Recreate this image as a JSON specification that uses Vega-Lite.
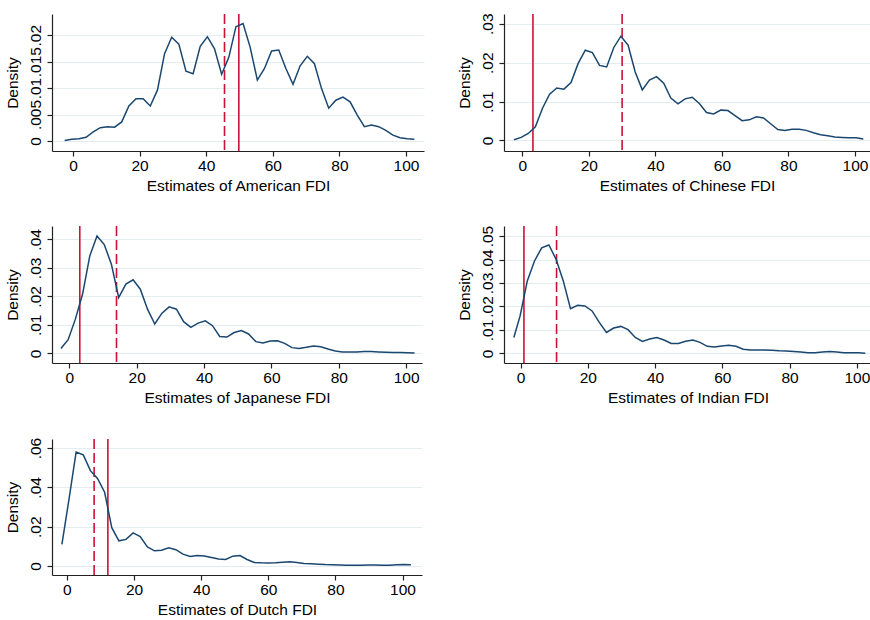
{
  "$schema": "https://vega.github.io/schema/vega-lite/v6.json",
  "padding": {"left": 5, "top": 12, "right": 0, "bottom": 0},
  "background": "white",
  "columns": 2,
  "spacing": {"column": 32, "row": 31},
  "config": {
    "view": {"stroke": null},
    "font": "Liberation Sans",
    "axis": {
      "labelFont": "Liberation Sans", "titleFont": "Liberation Sans",
      "labelFontSize": 15.5, "titleFontSize": 15.5, "titleFontWeight": "normal",
      "labelColor": "#000", "titleColor": "#000",
      "domainColor": "#222", "tickColor": "#222", "domainWidth": 1.2, "tickWidth": 1.2,
      "tickSize": 5
    },
    "axisX": {"grid": false, "labelPadding": 2, "titlePadding": 5, "labelFlush": false},
    "axisY": {"grid": true, "gridColor": "#e3edf0", "gridWidth": 1.2, "labelAngle": -90, "labelAlign": "center", "labelBaseline": "bottom", "labelPadding": 4, "titlePadding": 8}
  },
  "datasets": {
    "markers": [
      {"c": "American", "x": 45.5, "k": "dashed"}, {"c": "American", "x": 49.8, "k": "solid"},
      {"c": "Chinese", "x": 3.2, "k": "solid"}, {"c": "Chinese", "x": 30.0, "k": "dashed"},
      {"c": "Japanese", "x": 3.1, "k": "solid"}, {"c": "Japanese", "x": 14.0, "k": "dashed"},
      {"c": "Indian", "x": 1.0, "k": "solid"}, {"c": "Indian", "x": 10.7, "k": "dashed"},
      {"c": "Dutch", "x": 8.1, "k": "dashed"}, {"c": "Dutch", "x": 12.2, "k": "solid"}
    ],
    "american": [
      {"x": -2.5, "y": 0.0001}, {"x": -0.36, "y": 0.0003}, {"x": 1.79, "y": 0.0004}, {"x": 3.93, "y": 0.0007}, {"x": 6.07, "y": 0.0017},
      {"x": 8.21, "y": 0.0025}, {"x": 10.36, "y": 0.0027}, {"x": 12.5, "y": 0.0026}, {"x": 14.64, "y": 0.0036}, {"x": 16.79, "y": 0.0066},
      {"x": 18.93, "y": 0.008}, {"x": 21.07, "y": 0.008}, {"x": 23.21, "y": 0.0066}, {"x": 25.36, "y": 0.0096}, {"x": 27.5, "y": 0.0165},
      {"x": 29.64, "y": 0.0196}, {"x": 31.79, "y": 0.0183}, {"x": 33.93, "y": 0.0132}, {"x": 36.07, "y": 0.0127}, {"x": 38.21, "y": 0.0179},
      {"x": 40.36, "y": 0.0197}, {"x": 42.5, "y": 0.0174}, {"x": 44.64, "y": 0.0126}, {"x": 46.79, "y": 0.0158}, {"x": 48.93, "y": 0.0216},
      {"x": 51.07, "y": 0.0222}, {"x": 53.21, "y": 0.0177}, {"x": 55.36, "y": 0.0115}, {"x": 57.5, "y": 0.0137}, {"x": 59.64, "y": 0.017},
      {"x": 61.79, "y": 0.0172}, {"x": 63.93, "y": 0.0137}, {"x": 66.07, "y": 0.0107}, {"x": 68.21, "y": 0.0142}, {"x": 70.36, "y": 0.016},
      {"x": 72.5, "y": 0.0146}, {"x": 74.64, "y": 0.0099}, {"x": 76.79, "y": 0.0062}, {"x": 78.93, "y": 0.0077}, {"x": 81.07, "y": 0.0083},
      {"x": 83.21, "y": 0.0074}, {"x": 85.36, "y": 0.0049}, {"x": 87.5, "y": 0.0027}, {"x": 89.64, "y": 0.003}, {"x": 91.79, "y": 0.0027},
      {"x": 93.93, "y": 0.002}, {"x": 96.07, "y": 0.0011}, {"x": 98.21, "y": 0.0006}, {"x": 100.36, "y": 0.0004}, {"x": 102.5, "y": 0.0003}
    ],
    "chinese": [
      {"x": -2.5, "y": 0.0002}, {"x": -0.36, "y": 0.0008}, {"x": 1.79, "y": 0.0018}, {"x": 3.93, "y": 0.0035}, {"x": 6.07, "y": 0.0083},
      {"x": 8.21, "y": 0.0119}, {"x": 10.36, "y": 0.0135}, {"x": 12.5, "y": 0.0132}, {"x": 14.64, "y": 0.0149}, {"x": 16.79, "y": 0.0198},
      {"x": 18.93, "y": 0.0232}, {"x": 21.07, "y": 0.0226}, {"x": 23.21, "y": 0.0193}, {"x": 25.36, "y": 0.0189}, {"x": 27.5, "y": 0.0239},
      {"x": 29.64, "y": 0.0268}, {"x": 31.79, "y": 0.0245}, {"x": 33.93, "y": 0.0176}, {"x": 36.07, "y": 0.013}, {"x": 38.21, "y": 0.0155},
      {"x": 40.36, "y": 0.0164}, {"x": 42.5, "y": 0.0147}, {"x": 44.64, "y": 0.0109}, {"x": 46.79, "y": 0.0094}, {"x": 48.93, "y": 0.0107},
      {"x": 51.07, "y": 0.0111}, {"x": 53.21, "y": 0.0095}, {"x": 55.36, "y": 0.0072}, {"x": 57.5, "y": 0.0068}, {"x": 59.64, "y": 0.0078},
      {"x": 61.79, "y": 0.0077}, {"x": 63.93, "y": 0.0064}, {"x": 66.07, "y": 0.0051}, {"x": 68.21, "y": 0.0053}, {"x": 70.36, "y": 0.0061},
      {"x": 72.5, "y": 0.0058}, {"x": 74.64, "y": 0.0043}, {"x": 76.79, "y": 0.0028}, {"x": 78.93, "y": 0.0026}, {"x": 81.07, "y": 0.0029},
      {"x": 83.21, "y": 0.0029}, {"x": 85.36, "y": 0.0026}, {"x": 87.5, "y": 0.002}, {"x": 89.64, "y": 0.0015}, {"x": 91.79, "y": 0.0012},
      {"x": 93.93, "y": 0.0009}, {"x": 96.07, "y": 0.0008}, {"x": 98.21, "y": 0.0007}, {"x": 100.36, "y": 0.0007}, {"x": 102.5, "y": 0.0004}
    ],
    "japanese": [
      {"x": -2.5, "y": 0.0017}, {"x": -0.36, "y": 0.0048}, {"x": 1.79, "y": 0.012}, {"x": 3.93, "y": 0.0208}, {"x": 6.07, "y": 0.0342},
      {"x": 8.21, "y": 0.0412}, {"x": 10.36, "y": 0.0382}, {"x": 12.5, "y": 0.0312}, {"x": 14.64, "y": 0.0196}, {"x": 16.79, "y": 0.0243},
      {"x": 18.93, "y": 0.0258}, {"x": 21.07, "y": 0.0225}, {"x": 23.21, "y": 0.0155}, {"x": 25.36, "y": 0.0103}, {"x": 27.5, "y": 0.0141},
      {"x": 29.64, "y": 0.0163}, {"x": 31.79, "y": 0.0155}, {"x": 33.93, "y": 0.0111}, {"x": 36.07, "y": 0.0091}, {"x": 38.21, "y": 0.0106},
      {"x": 40.36, "y": 0.0114}, {"x": 42.5, "y": 0.0097}, {"x": 44.64, "y": 0.0059}, {"x": 46.79, "y": 0.0057}, {"x": 48.93, "y": 0.0073},
      {"x": 51.07, "y": 0.008}, {"x": 53.21, "y": 0.0068}, {"x": 55.36, "y": 0.0041}, {"x": 57.5, "y": 0.0036}, {"x": 59.64, "y": 0.0043},
      {"x": 61.79, "y": 0.0044}, {"x": 63.93, "y": 0.0035}, {"x": 66.07, "y": 0.002}, {"x": 68.21, "y": 0.0017}, {"x": 70.36, "y": 0.0021},
      {"x": 72.5, "y": 0.0026}, {"x": 74.64, "y": 0.0023}, {"x": 76.79, "y": 0.0015}, {"x": 78.93, "y": 0.0008}, {"x": 81.07, "y": 0.0005},
      {"x": 83.21, "y": 0.0005}, {"x": 85.36, "y": 0.0005}, {"x": 87.5, "y": 0.0006}, {"x": 89.64, "y": 0.0006}, {"x": 91.79, "y": 0.0005},
      {"x": 93.93, "y": 0.0004}, {"x": 96.07, "y": 0.0003}, {"x": 98.21, "y": 0.0003}, {"x": 100.36, "y": 0.0002}, {"x": 102.5, "y": 0.0001}
    ],
    "indian": [
      {"x": -2.0, "y": 0.0068}, {"x": -0.14, "y": 0.016}, {"x": 2.0, "y": 0.0309}, {"x": 4.14, "y": 0.0394}, {"x": 6.28, "y": 0.045},
      {"x": 8.42, "y": 0.0462}, {"x": 10.56, "y": 0.0401}, {"x": 12.7, "y": 0.0309}, {"x": 14.84, "y": 0.0191}, {"x": 16.98, "y": 0.0205},
      {"x": 19.12, "y": 0.0202}, {"x": 21.26, "y": 0.0181}, {"x": 23.4, "y": 0.0132}, {"x": 25.54, "y": 0.0089}, {"x": 27.68, "y": 0.0108},
      {"x": 29.82, "y": 0.0115}, {"x": 31.96, "y": 0.0101}, {"x": 34.1, "y": 0.0068}, {"x": 36.24, "y": 0.0051}, {"x": 38.38, "y": 0.0061},
      {"x": 40.52, "y": 0.0068}, {"x": 42.66, "y": 0.0057}, {"x": 44.8, "y": 0.0042}, {"x": 46.94, "y": 0.0042}, {"x": 49.08, "y": 0.0052},
      {"x": 51.22, "y": 0.0057}, {"x": 53.36, "y": 0.0047}, {"x": 55.5, "y": 0.003}, {"x": 57.64, "y": 0.0027}, {"x": 59.78, "y": 0.0031},
      {"x": 61.92, "y": 0.0035}, {"x": 64.06, "y": 0.003}, {"x": 66.2, "y": 0.0018}, {"x": 68.34, "y": 0.0014}, {"x": 70.48, "y": 0.0014},
      {"x": 72.62, "y": 0.0014}, {"x": 74.76, "y": 0.0013}, {"x": 76.9, "y": 0.0011}, {"x": 79.04, "y": 0.001}, {"x": 81.18, "y": 0.0008},
      {"x": 83.32, "y": 0.0006}, {"x": 85.46, "y": 0.0003}, {"x": 87.6, "y": 0.0003}, {"x": 89.74, "y": 0.0006}, {"x": 91.88, "y": 0.0008},
      {"x": 94.02, "y": 0.0006}, {"x": 96.16, "y": 0.0003}, {"x": 98.3, "y": 0.0003}, {"x": 100.44, "y": 0.0003}, {"x": 102.5, "y": 0.0001}
    ],
    "dutch": [
      {"x": -1.5, "y": 0.011}, {"x": 0.62, "y": 0.034}, {"x": 2.74, "y": 0.058}, {"x": 4.87, "y": 0.0565}, {"x": 6.99, "y": 0.0485},
      {"x": 9.11, "y": 0.0445}, {"x": 11.23, "y": 0.0375}, {"x": 13.36, "y": 0.0195}, {"x": 15.48, "y": 0.0128}, {"x": 17.6, "y": 0.0135},
      {"x": 19.72, "y": 0.0168}, {"x": 21.84, "y": 0.015}, {"x": 23.97, "y": 0.0097}, {"x": 26.09, "y": 0.0077}, {"x": 28.21, "y": 0.008},
      {"x": 30.33, "y": 0.0092}, {"x": 32.46, "y": 0.0083}, {"x": 34.58, "y": 0.006}, {"x": 36.7, "y": 0.0048}, {"x": 38.82, "y": 0.0053},
      {"x": 40.94, "y": 0.0051}, {"x": 43.07, "y": 0.0043}, {"x": 45.19, "y": 0.0035}, {"x": 47.31, "y": 0.0033}, {"x": 49.43, "y": 0.005},
      {"x": 51.56, "y": 0.0053}, {"x": 53.68, "y": 0.0033}, {"x": 55.8, "y": 0.0018}, {"x": 57.92, "y": 0.0016}, {"x": 60.04, "y": 0.0015},
      {"x": 62.17, "y": 0.0016}, {"x": 64.29, "y": 0.0019}, {"x": 66.41, "y": 0.0022}, {"x": 68.53, "y": 0.0018}, {"x": 70.66, "y": 0.0013},
      {"x": 72.78, "y": 0.0011}, {"x": 74.9, "y": 0.0009}, {"x": 77.02, "y": 0.0007}, {"x": 79.14, "y": 0.0006}, {"x": 81.27, "y": 0.0005},
      {"x": 83.39, "y": 0.0004}, {"x": 85.51, "y": 0.0004}, {"x": 87.63, "y": 0.0004}, {"x": 89.76, "y": 0.0005}, {"x": 91.88, "y": 0.0005},
      {"x": 94.0, "y": 0.0004}, {"x": 96.12, "y": 0.0004}, {"x": 98.24, "y": 0.0006}, {"x": 100.37, "y": 0.0008}, {"x": 102.5, "y": 0.0006}
    ]
  },
  "concat": [
    {
      "width": 372, "height": 137,
      "layer": [
        {"data": {"name": "markers"}, "transform": [{"filter": "datum.c == 'American'"}],
         "mark": {"type": "rule", "color": "#cc1236", "strokeWidth": 1.6},
         "encoding": {"x": {"field": "x", "type": "quantitative"},
           "strokeDash": {"field": "k", "type": "nominal", "scale": {"domain": ["solid", "dashed"], "range": [[1, 0], [10, 4]]}, "legend": null}}},
        {"data": {"name": "american"}, "mark": {"type": "line", "color": "#1a476f", "strokeWidth": 1.5, "clip": true},
         "encoding": {
           "x": {"field": "x", "type": "quantitative", "scale": {"domain": [-6.3, 105.4], "nice": false, "zero": false},
                 "axis": {"values": [0, 20, 40, 60, 80, 100], "title": "Estimates of American FDI"}},
           "y": {"field": "y", "type": "quantitative", "scale": {"domain": [-0.0019, 0.024], "nice": false, "zero": false},
                 "axis": {"values": [0, 0.005, 0.01, 0.015, 0.02], "title": "Density", "labelExpr": "datum.value == 0 ? '0' : replace(format(datum.value, '.3~f'), '0.', '.')"}}}}
      ]
    },
    {
      "width": 366, "height": 137,
      "layer": [
        {"data": {"name": "markers"}, "transform": [{"filter": "datum.c == 'Chinese'"}],
         "mark": {"type": "rule", "color": "#cc1236", "strokeWidth": 1.6},
         "encoding": {"x": {"field": "x", "type": "quantitative"},
           "strokeDash": {"field": "k", "type": "nominal", "scale": {"domain": ["solid", "dashed"], "range": [[1, 0], [10, 4]]}, "legend": null}}},
        {"data": {"name": "chinese"}, "mark": {"type": "line", "color": "#1a476f", "strokeWidth": 1.5, "clip": true},
         "encoding": {
           "x": {"field": "x", "type": "quantitative", "scale": {"domain": [-5.5, 104.5], "nice": false, "zero": false},
                 "axis": {"values": [0, 20, 40, 60, 80, 100], "title": "Estimates of Chinese FDI"}},
           "y": {"field": "y", "type": "quantitative", "scale": {"domain": [-0.0027, 0.0325], "nice": false, "zero": false},
                 "axis": {"values": [0, 0.01, 0.02, 0.03], "title": "Density", "labelExpr": "datum.value == 0 ? '0' : replace(format(datum.value, '.3~f'), '0.', '.')"}}}}
      ]
    },
    {
      "width": 370, "height": 137,
      "layer": [
        {"data": {"name": "markers"}, "transform": [{"filter": "datum.c == 'Japanese'"}],
         "mark": {"type": "rule", "color": "#cc1236", "strokeWidth": 1.6},
         "encoding": {"x": {"field": "x", "type": "quantitative"},
           "strokeDash": {"field": "k", "type": "nominal", "scale": {"domain": ["solid", "dashed"], "range": [[1, 0], [10, 4]]}, "legend": null}}},
        {"data": {"name": "japanese"}, "mark": {"type": "line", "color": "#1a476f", "strokeWidth": 1.5, "clip": true},
         "encoding": {
           "x": {"field": "x", "type": "quantitative", "scale": {"domain": [-5.15, 104.7], "nice": false, "zero": false},
                 "axis": {"values": [0, 20, 40, 60, 80, 100], "title": "Estimates of Japanese FDI"}},
           "y": {"field": "y", "type": "quantitative", "scale": {"domain": [-0.0034, 0.0447], "nice": false, "zero": false},
                 "axis": {"values": [0, 0.01, 0.02, 0.03, 0.04], "title": "Density", "labelExpr": "datum.value == 0 ? '0' : replace(format(datum.value, '.3~f'), '0.', '.')"}}}}
      ]
    },
    {
      "width": 368, "height": 137,
      "layer": [
        {"data": {"name": "markers"}, "transform": [{"filter": "datum.c == 'Indian'"}],
         "mark": {"type": "rule", "color": "#cc1236", "strokeWidth": 1.6},
         "encoding": {"x": {"field": "x", "type": "quantitative"},
           "strokeDash": {"field": "k", "type": "nominal", "scale": {"domain": ["solid", "dashed"], "range": [[1, 0], [10, 4]]}, "legend": null}}},
        {"data": {"name": "indian"}, "mark": {"type": "line", "color": "#1a476f", "strokeWidth": 1.5, "clip": true},
         "encoding": {
           "x": {"field": "x", "type": "quantitative", "scale": {"domain": [-4.93, 104.5], "nice": false, "zero": false},
                 "axis": {"values": [0, 20, 40, 60, 80, 100], "title": "Estimates of Indian FDI"}},
           "y": {"field": "y", "type": "quantitative", "scale": {"domain": [-0.0041, 0.0543], "nice": false, "zero": false},
                 "axis": {"values": [0, 0.01, 0.02, 0.03, 0.04, 0.05], "title": "Density", "labelExpr": "datum.value == 0 ? '0' : replace(format(datum.value, '.3~f'), '0.', '.')"}}}}
      ]
    },
    {
      "width": 370, "height": 136,
      "layer": [
        {"data": {"name": "markers"}, "transform": [{"filter": "datum.c == 'Dutch'"}],
         "mark": {"type": "rule", "color": "#cc1236", "strokeWidth": 1.6},
         "encoding": {"x": {"field": "x", "type": "quantitative"},
           "strokeDash": {"field": "k", "type": "nominal", "scale": {"domain": ["solid", "dashed"], "range": [[1, 0], [10, 4]]}, "legend": null}}},
        {"data": {"name": "dutch"}, "mark": {"type": "line", "color": "#1a476f", "strokeWidth": 1.5, "clip": true},
         "encoding": {
           "x": {"field": "x", "type": "quantitative", "scale": {"domain": [-4.45, 105.8], "nice": false, "zero": false},
                 "axis": {"values": [0, 20, 40, 60, 80, 100], "title": "Estimates of Dutch FDI"}},
           "y": {"field": "y", "type": "quantitative", "scale": {"domain": [-0.0046, 0.0646], "nice": false, "zero": false},
                 "axis": {"values": [0, 0.02, 0.04, 0.06], "title": "Density", "labelExpr": "datum.value == 0 ? '0' : replace(format(datum.value, '.3~f'), '0.', '.')"}}}}
      ]
    }
  ]
}
